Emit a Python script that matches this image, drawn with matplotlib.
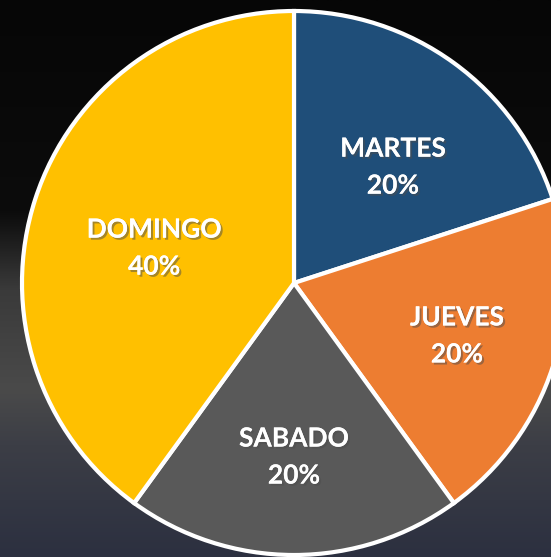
import numpy as np
import matplotlib
matplotlib.use("Agg")
import matplotlib.pyplot as plt
import matplotlib.patheffects as pe
from matplotlib.colors import LinearSegmentedColormap

dias = ["MARTES", "JUEVES", "SABADO", "DOMINGO"]
porcentajes = [20, 20, 20, 40]
colores = ["#1F4E79", "#ED7D31", "#595959", "#FFC000"]

# posición de etiquetas (fracción del radio y giro en grados)
dist_etiq = [0.56, 0.63, 0.64, 0.53]
giro_etiq = [-4.5, 0, 0, 4]

fig = plt.figure(figsize=(5.51, 5.57), dpi=100)

# fondo oscuro difuminado (imitando la foto de fondo)
bg = fig.add_axes([0, 0, 1, 1])
bg.axis("off")
fondo = LinearSegmentedColormap.from_list(
    "fondo",
    [(0.0, "#060606"), (0.38, "#0c0c0c"), (0.52, "#3a3a3a"),
     (0.7, "#4a4a4a"), (0.8, "#3c3e46"), (1.0, "#2c3040")])
grad = np.linspace(0, 1, 256).reshape(-1, 1)
bg.imshow(grad, aspect="auto", cmap=fondo, extent=[0, 1, 0, 1])

ax = fig.add_axes([0, 0, 1, 1])
cx, cy, r = 294, 274, 272
wedges, _ = ax.pie(porcentajes, colors=colores, startangle=90,
                   counterclock=False, center=(cx, cy), radius=r, frame=True,
                   wedgeprops=dict(edgecolor="white", linewidth=3))
ax.set_xlim(0, 551)
ax.set_ylim(0, 557)
ax.set_aspect("equal")
ax.axis("off")

for w, d, p, f, g in zip(wedges, dias, porcentajes, dist_etiq, giro_etiq):
    ang = np.deg2rad((w.theta1 + w.theta2) / 2 + g)
    x = cx + f * r * np.cos(ang)
    y = cy + f * r * np.sin(ang)
    ax.text(x, y, f"{d}\n{p}%", color="white", fontfamily="Lato",
            fontweight="bold", fontsize=19, ha="center", va="center",
            linespacing=1.65,
            path_effects=[pe.withSimplePatchShadow(offset=(1.5, -1.5), alpha=0.5),
                          pe.Normal()])

fig.savefig("out.png", dpi=100)
